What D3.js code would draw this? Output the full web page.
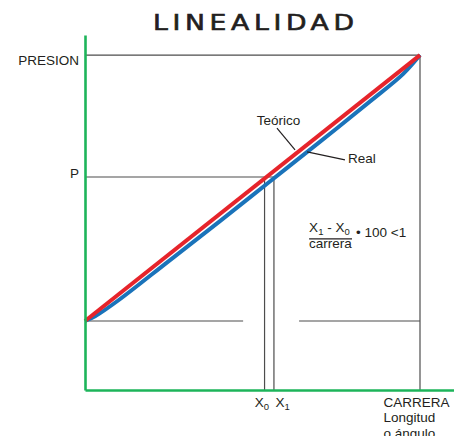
<!DOCTYPE html>
<html><head><meta charset="utf-8">
<script src="https://cdn.jsdelivr.net/npm/d3@7"></script>
<style>
html,body{margin:0;padding:0;background:#fff;}
svg{display:block;font-family:"Liberation Sans",Arial,sans-serif;}
</style></head>
<body>
<svg id="c" width="454" height="436"></svg>
<script>
// ---- data ----
const title = "LINEALIDAD";
const startPressure = 20.6;          // pressure at zero stroke
const teoricoX = [0, 100];
const teoricoY = [20.6, 100];
const realX = [0, 3, 10, 25, 40, 55, 70, 85, 95, 100];
const realY = [20.6, 22.0, 26.8, 38.5, 50.2, 62.1, 74.0, 86.1, 94.4, 100];
const pLevel = 63.6;
const x0Val = 53.6;
const x1Val = 56.4;
const maxVal = 100;
const yTickValues = [pLevel, maxVal];
const yTickLabels = ["P", "PRESION"];
const xTickValues = [x0Val, x1Val, maxVal];
const baseGap = [47.2, 63.9];       // gap in the base line

const C = {red:"#e6242b", blue:"#1a73ba", green:"#1db45a", dark:"#4d4d4d", text:"#231f20"};

const svg = d3.select("#c");
const x = d3.scaleLinear().domain([0, 110]).range([85, 453.5]);
const y = d3.scaleLinear().domain([0, 106]).range([390, 35]);

// title (wide geometric look: horizontally stretched)
svg.append("g").attr("transform", "translate(153,30) scale(1.3,1)")
  .append("text").attr("x", 0).attr("y", 0)
  .attr("textLength", 201 / 1.3).attr("lengthAdjust", "spacing")
  .style("font-family", "'DejaVu Sans', sans-serif").style("font-weight", "normal")
  .attr("stroke", "#231f20").attr("stroke-width", 0.6)
  .style("font-size", "20.5px").attr("fill", C.text).text(title);

// reference lines (dark)
const ref = svg.append("g").attr("stroke", C.dark).attr("stroke-width", 1.2).attr("fill", "none");
const seg = (a, b, c, d) => ref.append("line").attr("x1", x(a)).attr("y1", y(b)).attr("x2", x(c)).attr("y2", y(d));
seg(0, maxVal, maxVal, maxVal);
seg(maxVal, 0, maxVal, maxVal);
seg(0, startPressure, baseGap[0], startPressure);
seg(baseGap[1], startPressure, maxVal, startPressure);
seg(0, pLevel, x1Val, pLevel);
seg(x0Val, 0, x0Val, pLevel);
seg(x1Val, 0, x1Val, pLevel);

// lines
const line = d3.line().x(d => x(d[0])).y(d => y(d[1])).curve(d3.curveCatmullRom);
svg.append("path").datum(realX.map((v, i) => [v, realY[i]]))
  .attr("d", line).attr("fill", "none").attr("stroke", C.blue).attr("stroke-width", 4);
svg.append("path").datum(teoricoX.map((v, i) => [v, teoricoY[i]]))
  .attr("d", line).attr("fill", "none").attr("stroke", C.red).attr("stroke-width", 4);

// axes
const yAxis = svg.append("g").attr("transform", `translate(${x(0)},0)`)
  .call(d3.axisLeft(y).tickValues(yTickValues).tickSize(0).tickPadding(6)
    .tickFormat((d, i) => yTickLabels[i]));
yAxis.select(".domain").attr("stroke", C.green).attr("stroke-width", 2.6);
yAxis.selectAll("text").style("font-size", "13.5px").attr("fill", C.text)
  .attr("font-family", null).attr("dy", (d, i) => i === 0 ? "0" : "0.72em");

const xAxis = svg.append("g").attr("transform", `translate(0,${y(0)})`)
  .call(d3.axisBottom(x).tickValues(xTickValues).tickSize(0).tickPadding(0).tickFormat(""));
xAxis.select(".domain").attr("stroke", C.green).attr("stroke-width", 2.6);
xAxis.selectAll(".tick").each(function(d, i) {
  const t = d3.select(this).append("text").attr("fill", C.text).style("font-size", "13.5px")
    .attr("font-family", null).attr("y", 17);
  if (i < 2) {
    t.attr("text-anchor", i === 0 ? "end" : "start").attr("x", i === 0 ? 4 : 1);
    t.append("tspan").text("X");
    t.append("tspan").attr("dy", 3).style("font-size", "9.5px").text(i === 0 ? "0" : "1");
  } else {
    t.attr("text-anchor", "start").attr("x", -37);
    ["CARRERA", "Longitud", "o ángulo"].forEach((s, k) =>
      t.append("tspan").attr("x", -37).attr("dy", k === 0 ? 0 : 15.3).text(s));
  }
});

// annotations
const ann = svg.append("g").style("font-size", "13.5px").attr("fill", C.text);
ann.append("text").attr("x", x(51.3)).attr("y", y(79.0)).text("Teórico");
ann.append("text").attr("x", x(78.5)).attr("y", y(67.8)).text("Real");
const lead = svg.append("g").attr("stroke", C.text).attr("stroke-width", 1.2);
lead.append("line").attr("x1", x(57.3)).attr("y1", y(78.2)).attr("x2", x(62.7)).attr("y2", y(71.7));
lead.append("line").attr("x1", x(66.3)).attr("y1", y(71.1)).attr("x2", x(77.6)).attr("y2", y(68.7));

// formula
const num = ann.append("text").attr("x", x(66.9)).attr("y", y(47.2));
num.append("tspan").text("X");
num.append("tspan").attr("dy", 3).style("font-size", "9.5px").text("1");
num.append("tspan").attr("dy", -3).text(" - X");
num.append("tspan").attr("dy", 3).style("font-size", "9.5px").text("0");
svg.append("line").attr("x1", x(66.9)).attr("x2", x(79.7)).attr("y1", y(45.1)).attr("y2", y(45.1))
  .attr("stroke", C.text).attr("stroke-width", 1.3);
ann.append("text").attr("x", x(66.9)).attr("y", y(42.4)).text("carrera");
ann.append("text").attr("x", x(80.9)).attr("y", y(45.7)).text("• 100 <1");
</script>
</body></html>
